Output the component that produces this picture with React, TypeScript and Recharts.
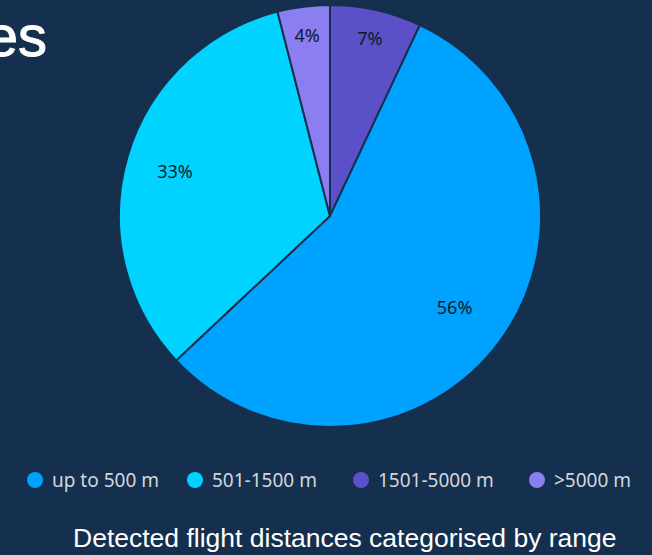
import React from 'react';
import { PieChart, Pie, Cell } from 'recharts';

// slices, clockwise from 12 o'clock
const sliceNames = ['1501-5000 m', 'up to 500 m', '501-1500 m', '>5000 m'];
const sliceValues = [7, 56, 33, 4];

// legend order
const legendNames = ['up to 500 m', '501-1500 m', '1501-5000 m', '>5000 m'];

const COLORS: Record<string, string> = {
  'up to 500 m': '#00a2ff',
  '501-1500 m': '#00d3ff',
  '1501-5000 m': '#5c50c8',
  '>5000 m': '#8a7ef0',
};

// width reserved for each legend entry
const LEGEND_ITEM_W = [160, 166, 176, 100];

const BG = '#14304e';
const W = 652;
const H = 555;
const CX = 330;
const CY = 216;
const R = 211;

const data = sliceNames.map((name, i) => ({ name, value: sliceValues[i] }));
const total = sliceValues.reduce((a, b) => a + b, 0);

const RAD = Math.PI / 180;

// small slices get their label pushed further out
const labelRadius = (pct: number) => (pct < 0.1 ? 0.865 : pct > 0.5 ? 0.73 : 0.765);

const renderLabel = (props: any) => {
  const { cx, cy, midAngle, outerRadius, value } = props;
  const pct = value / total;
  const r = outerRadius * labelRadius(pct);
  const x = cx + r * Math.cos(-midAngle * RAD);
  const y = cy + r * Math.sin(-midAngle * RAD);
  return (
    <text
      x={x}
      y={y}
      fill="#0c1b2c"
      fontSize={18}
      fontFamily="Noto Sans"
      textAnchor="middle"
      dominantBaseline="central"
    >
      {`${Math.round(pct * 100)}%`}
    </text>
  );
};

export default function App() {
  return (
    <div
      style={{
        position: 'absolute',
        left: 0,
        top: 0,
        width: W,
        height: H,
        background: BG,
        overflow: 'hidden',
      }}
    >
      <PieChart width={W} height={H} margin={{ top: 0, right: 0, bottom: 0, left: 0 }}>
        <Pie
          data={data}
          dataKey="value"
          nameKey="name"
          cx={CX}
          cy={CY}
          outerRadius={R}
          startAngle={90}
          endAngle={-270}
          stroke={BG}
          strokeWidth={2}
          label={renderLabel}
          labelLine={false}
          isAnimationActive={false}
        >
          {data.map((d) => (
            <Cell key={d.name} fill={COLORS[d.name]} />
          ))}
        </Pie>
      </PieChart>

      <svg
        width={W}
        height={H}
        style={{ position: 'absolute', left: 0, top: 0, pointerEvents: 'none' }}
      >
        <text
          x={47}
          y={56}
          textAnchor="end"
          fill="#ffffff"
          fontSize={58}
          fontFamily="Liberation Sans"
          stroke="#ffffff"
          strokeWidth={1}
        >
          es
        </text>
        <text x={73} y={547} fill="#ffffff" fontSize={26.5} fontFamily="Liberation Sans">
          Detected flight distances categorised by range
        </text>
      </svg>

      <div
        style={{
          position: 'absolute',
          left: 27,
          top: 467,
          display: 'flex',
          alignItems: 'center',
          fontFamily: 'Noto Sans',
          fontSize: 19,
          color: '#d3d6db',
          whiteSpace: 'nowrap',
        }}
      >
        {legendNames.map((name, i) => (
          <div
            key={name}
            style={{ display: 'flex', alignItems: 'center', width: LEGEND_ITEM_W[i] }}
          >
            <span
              style={{
                width: 16,
                height: 16,
                borderRadius: 8,
                background: COLORS[name],
                marginRight: 9,
                flexShrink: 0,
              }}
            />
            <span>{name}</span>
          </div>
        ))}
      </div>
    </div>
  );
}
